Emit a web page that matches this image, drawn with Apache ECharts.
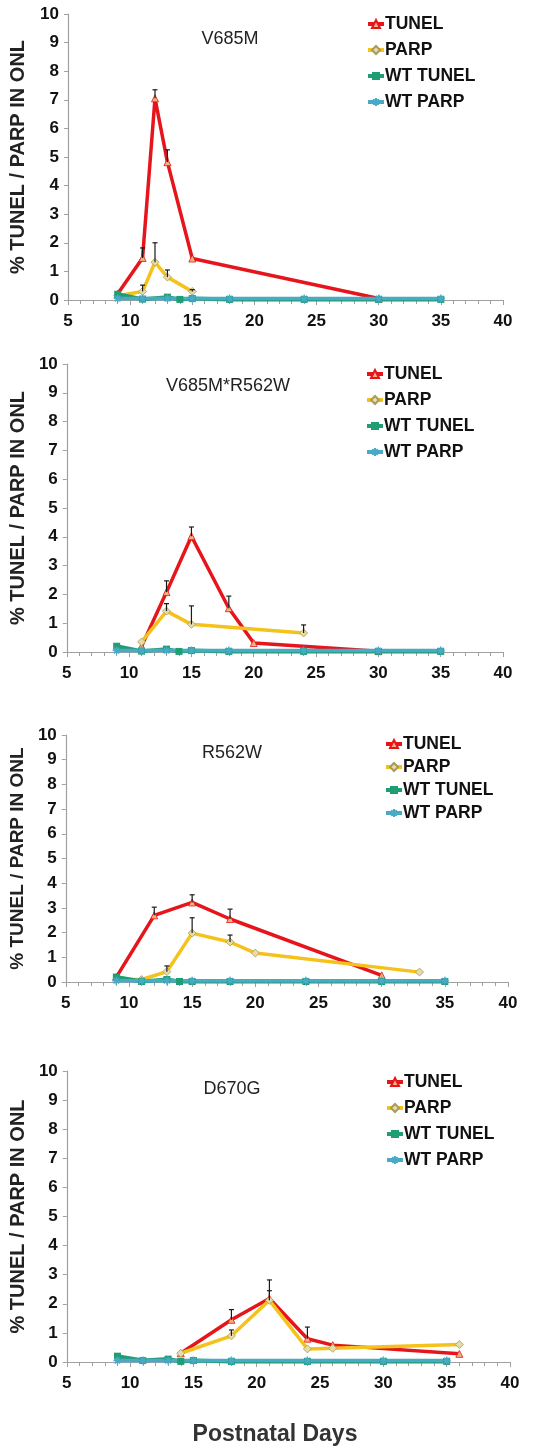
<!DOCTYPE html>
<html lang="en">
<head>
    <meta charset="UTF-8">
    <title>TUNEL / PARP</title>
    <script src="https://cdn.jsdelivr.net/npm/echarts@6/dist/echarts.min.js"></script>
    <style>
        html, body {
            margin: 0;
            padding: 0;
            background: #fff;
        }

        #chart {
            width: 556px;
            height: 1450px;
        }
    </style>
</head>
<body>
<div id="chart"></div>

<script type="text/javascript">
    // panel names
    const panelTitles = ['V685M', 'V685M*R562W', 'R562W', 'D670G'];
    const seriesNames = ['TUNEL', 'PARP', 'WT TUNEL', 'WT PARP'];
    const xTicks = [5, 10, 15, 20, 25, 30, 35, 40];

    // V685M
    const p1Tunel = [[9, 0.22], [11, 1.47], [12, 7.05], [13, 4.82], [15, 1.45], [30, 0.05]];
    const p1Parp = [[9, 0.15], [11, 0.3], [12, 1.32], [13, 0.8], [15, 0.3]];
    const p1WtTunel = [[9, 0.2], [11, 0.03], [13, 0.1], [14, 0.02], [15, 0.05], [18, 0.02], [24, 0.02], [30, 0.02], [35, 0.02]];
    const p1WtParp = [[9, 0.05], [11, 0.05], [13, 0.05], [15, 0.05], [18, 0.05], [24, 0.05], [30, 0.05], [35, 0.05]];
    const p1TunelErr = [[11, 1.47, 1.82], [12, 7.05, 7.35], [13, 4.82, 5.25]];
    const p1ParpErr = [[11, 0.3, 0.52], [12, 1.32, 2.0], [13, 0.8, 1.05], [15, 0.3, 0.36]];

    // V685M*R562W
    const p2Tunel = [[11, 0.2], [13, 2.08], [15, 4.02], [18, 1.52], [20, 0.31], [30, 0.03]];
    const p2Parp = [[11, 0.35], [13, 1.42], [15, 0.96], [24, 0.66]];
    const p2WtTunel = [[9, 0.2], [11, 0.03], [13, 0.1], [14, 0.02], [15, 0.05], [18, 0.02], [24, 0.02], [30, 0.02], [35, 0.02]];
    const p2WtParp = [[9, 0.05], [11, 0.05], [13, 0.05], [15, 0.05], [18, 0.05], [24, 0.05], [30, 0.05], [35, 0.05]];
    const p2TunelErr = [[13, 2.08, 2.47], [15, 4.02, 4.34], [18, 1.52, 1.94]];
    const p2ParpErr = [[13, 1.42, 1.68], [15, 0.96, 1.6], [24, 0.66, 0.94]];

    // R562W
    const p3Tunel = [[9, 0.2], [12, 2.7], [15, 3.22], [18, 2.55], [30, 0.27]];
    const p3Parp = [[9, 0.1], [11, 0.1], [13, 0.42], [15, 1.98], [18, 1.62], [20, 1.17], [33, 0.4]];
    const p3WtTunel = [[9, 0.2], [11, 0.02], [13, 0.1], [14, 0.02], [15, 0.02], [18, 0.02], [24, 0.02], [30, 0.02], [35, 0.02]];
    const p3WtParp = [[9, 0.05], [11, 0.05], [13, 0.05], [15, 0.05], [18, 0.05], [24, 0.05], [30, 0.05], [35, 0.05]];
    const p3TunelErr = [[12, 2.7, 3.03], [15, 3.22, 3.53], [18, 2.55, 2.95]];
    const p3ParpErr = [[13, 0.42, 0.65], [15, 1.98, 2.6], [18, 1.62, 1.9]];

    // D670G
    const p4Tunel = [[14, 0.3], [18, 1.45], [21, 2.18], [24, 0.8], [26, 0.58], [36, 0.28]];
    const p4Parp = [[14, 0.3], [18, 0.9], [21, 2.12], [24, 0.45], [26, 0.47], [36, 0.6]];
    const p4WtTunel = [[9, 0.2], [11, 0.05], [13, 0.1], [14, 0.02], [15, 0.05], [18, 0.02], [24, 0.02], [30, 0.02], [35, 0.02]];
    const p4WtParp = [[9, 0.05], [11, 0.05], [13, 0.05], [15, 0.05], [18, 0.05], [24, 0.05], [30, 0.05], [35, 0.05]];
    const p4TunelErr = [[18, 1.45, 1.8], [21, 2.18, 2.82], [24, 0.8, 1.2]];
    const p4ParpErr = [[18, 0.9, 1.1], [21, 2.12, 2.45]];

    const panels = [
        {tunel: p1Tunel, parp: p1Parp, wtTunel: p1WtTunel, wtParp: p1WtParp, tErr: p1TunelErr, pErr: p1ParpErr},
        {tunel: p2Tunel, parp: p2Parp, wtTunel: p2WtTunel, wtParp: p2WtParp, tErr: p2TunelErr, pErr: p2ParpErr},
        {tunel: p3Tunel, parp: p3Parp, wtTunel: p3WtTunel, wtParp: p3WtParp, tErr: p3TunelErr, pErr: p3ParpErr},
        {tunel: p4Tunel, parp: p4Parp, wtTunel: p4WtTunel, wtParp: p4WtParp, tErr: p4TunelErr, pErr: p4ParpErr}
    ];

    // layout of each panel (pixels)
    const grids = [
        {left: 65, top: 14, width: 438, height: 286},
        {left: 63, top: 364, width: 440, height: 288},
        {left: 63, top: 735, width: 445, height: 247},
        {left: 63, top: 1071, width: 447, height: 291}
    ];
    const titlePos = [[230, 39], [228, 386], [232, 753], [232, 1089]];
    const legendPos = [
        {left: 366, top: 15, gap: 8},
        {left: 365, top: 365, gap: 8},
        {left: 384, top: 735, gap: 5},
        {left: 385, top: 1073, gap: 8}
    ];

    const colors = {
        tunel: '#e5151b',
        parp: '#f5c21b',
        wtTunel: '#1f9d73',
        wtParp: '#48aac4'
    };
    const starPath = 'path://M5,0 L5,10 M0,5 L10,5 M1.5,1.5 L8.5,8.5 M8.5,1.5 L1.5,8.5';
    const font = '"Liberation Sans", Arial, sans-serif';

    function errorBars(data, idx) {
        return {
            type: 'custom',
            name: 'err' + idx,
            xAxisIndex: idx,
            yAxisIndex: idx,
            z: 5,
            silent: true,
            encode: {x: 0, y: [1, 2]},
            data: data,
            renderItem: function (params, api) {
                let p0 = api.coord([api.value(0), api.value(1)]);
                let p1 = api.coord([api.value(0), api.value(2)]);
                let st = {stroke: '#1a1a1a', lineWidth: 1.2};
                return {
                    type: 'group',
                    children: [
                        {type: 'line', shape: {x1: p0[0], y1: p0[1], x2: p1[0], y2: p1[1]}, style: st},
                        {type: 'line', shape: {x1: p1[0] - 2.5, y1: p1[1], x2: p1[0] + 2.5, y2: p1[1]}, style: st}
                    ]
                };
            }
        };
    }

    let option = {
        animation: false,
        backgroundColor: '#fff',
        grid: [],
        xAxis: [],
        yAxis: [],
        legend: [],
        series: [],
        graphic: []
    };

    for (let i = 0; i < 4; i++) {
        option.grid.push(grids[i]);
        option.xAxis.push({
            type: 'value',
            gridIndex: i,
            min: 5,
            max: 40,
            interval: 5,
            axisLine: {show: true, lineStyle: {color: '#a0a0a0', width: 1.2}},
            axisTick: {show: true, length: 5, lineStyle: {color: '#a0a0a0'}},
            minorTick: {show: true, splitNumber: 5, length: 4, lineStyle: {color: '#a0a0a0'}},
            splitLine: {show: false},
            axisLabel: {
                margin: 13,
                fontFamily: font,
                fontWeight: 'bold',
                fontSize: 17,
                color: '#111',
                formatter: function (v) {
                    return xTicks.indexOf(v) >= 0 ? String(v) : '';
                }
            }
        });
        option.yAxis.push({
            type: 'value',
            gridIndex: i,
            min: 0,
            max: 10,
            interval: 1,
            name: '% TUNEL / PARP IN ONL',
            nameLocation: 'middle',
            nameGap: i === 0 ? 40 : 38,
            nameTextStyle: {fontFamily: font, fontWeight: 'bold', fontSize: i === 2 ? 19 : 20, color: '#222'},
            axisLine: {show: true, lineStyle: {color: '#a0a0a0', width: 1.2}},
            axisTick: {show: true, length: 4, lineStyle: {color: '#a0a0a0'}},
            splitLine: {show: false},
            axisLabel: {margin: 9, fontFamily: font, fontWeight: 'bold', fontSize: 17, color: '#111'}
        });
        option.legend.push({
            orient: 'vertical',
            left: legendPos[i].left,
            top: legendPos[i].top,
            padding: 0,
            itemGap: legendPos[i].gap,
            itemWidth: 16,
            itemHeight: 10,
            data: seriesNames,
            lineStyle: {width: 4},
            textStyle: {fontFamily: font, fontWeight: 'bold', fontSize: 17.5, color: '#111', padding: [0, 0, 0, -4]}
        });

        let d = panels[i];
        option.series.push({
            name: 'TUNEL', type: 'line', xAxisIndex: i, yAxisIndex: i, data: d.tunel,
            lineStyle: {color: colors.tunel, width: 3.5},
            symbol: 'triangle', symbolSize: 7,
            itemStyle: {color: '#f2b27c', borderColor: colors.tunel, borderWidth: 0.8},
            z: 2
        });
        option.series.push({
            name: 'PARP', type: 'line', xAxisIndex: i, yAxisIndex: i, data: d.parp,
            lineStyle: {color: colors.parp, width: 3.5},
            symbol: 'diamond', symbolSize: 8,
            itemStyle: {color: '#e6dca6', borderColor: '#a89a5a', borderWidth: 0.8},
            z: 3
        });
        option.series.push({
            name: 'WT TUNEL', type: 'line', xAxisIndex: i, yAxisIndex: i, data: d.wtTunel,
            lineStyle: {color: colors.wtTunel, width: 4},
            symbol: 'rect', symbolSize: 7,
            itemStyle: {color: colors.wtTunel},
            z: 4
        });
        option.series.push({
            name: 'WT PARP', type: 'line', xAxisIndex: i, yAxisIndex: i, data: d.wtParp,
            lineStyle: {color: colors.wtParp, width: 3.5},
            symbol: starPath, symbolSize: 8,
            itemStyle: {color: colors.wtParp, borderColor: colors.wtParp, borderWidth: 1.5},
            z: 4
        });
        option.series.push(errorBars(d.tErr, i));
        option.series.push(errorBars(d.pErr, i));

        option.graphic.push({
            type: 'text',
            x: titlePos[i][0],
            y: titlePos[i][1],
            style: {
                text: panelTitles[i],
                font: '18px ' + font,
                fill: '#222',
                align: 'center',
                verticalAlign: 'middle'
            }
        });
    }

    option.graphic.push({
        type: 'text',
        x: 275,
        y: 1435,
        style: {
            text: 'Postnatal Days',
            font: 'bold 23px ' + font,
            fill: '#333',
            align: 'center',
            verticalAlign: 'middle'
        }
    });

    let chart = echarts.init(document.getElementById('chart'));
    chart.setOption(option);
</script>
</body>
</html>
